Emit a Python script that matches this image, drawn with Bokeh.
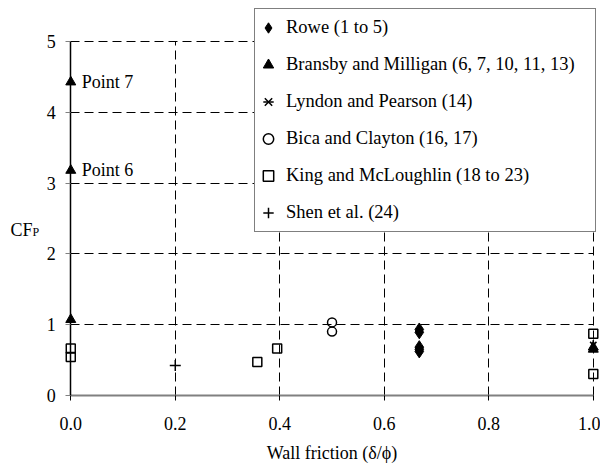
import math
from bokeh.plotting import figure
from bokeh.models import (Range1d, FixedTicker, PrintfTickFormatter, Legend,
                          LegendItem, Label)
from bokeh.core.properties import value
from bokeh.embed import file_html
from bokeh.resources import INLINE

# ---------------- data ----------------
x_ticks = [0.0, 0.2, 0.4, 0.6, 0.8, 1.0]
y_ticks = [0, 1, 2, 3, 4, 5]

rowe_x = [0.667, 0.667, 0.667, 0.667, 0.667]
rowe_y = [0.93, 0.89, 0.68, 0.65, 0.62]

bransby_x = [0.0, 0.0, 0.0, 1.0, 1.0]
bransby_y = [3.18, 4.43, 1.07, 0.68, 0.65]

lyndon_x = [1.0]
lyndon_y = [0.71]

bica_x = [0.5, 0.5]
bica_y = [1.03, 0.90]

king_x = [0.0, 0.0, 0.357, 0.395, 1.0, 1.0]
king_y = [0.66, 0.54, 0.47, 0.66, 0.87, 0.30]

shen_x = [0.2]
shen_y = [0.42]

point_text = ["Point 6", "Point 7"]
point_x = [bransby_x[0], bransby_x[1]]
point_y = [bransby_y[0], bransby_y[1]]

series_labels = ["Rowe (1 to 5)",
                 "Bransby and Milligan (6, 7, 10, 11, 13)",
                 "Lyndon and Pearson (14)",
                 "Bica and Clayton (16, 17)",
                 "King and McLoughlin (18 to 23)",
                 "Shen et al. (24)"]

FONT = "Liberation Serif"

# ---------------- figure ----------------
p = figure(width=600, height=465, output_backend="svg", toolbar_location=None,
           x_range=Range1d(-0.1345, 1.0138), y_range=Range1d(-0.994, 5.47),
           min_border_left=0, min_border_right=0, min_border_top=8,
           min_border_bottom=0)
p.outline_line_color = None
p.background_fill_color = "white"
p.border_fill_color = "white"

# x axis (drawn at y = 0)
xa = p.xaxis[0]
xa.fixed_location = 0
xa.ticker = FixedTicker(ticks=x_ticks)
xa.formatter = PrintfTickFormatter(format="%.1f")
xa.bounds = (0, 1)
xa.axis_line_color = "#808080"
xa.axis_line_width = 2
xa.major_tick_line_color = "black"
xa.major_tick_in = 0
xa.major_tick_out = 5
xa.minor_tick_line_color = None
xa.major_label_text_font = FONT
xa.major_label_text_font_size = "18px"
xa.major_label_text_color = "black"
xa.major_label_standoff = 17
xa.axis_label = "Wall friction (δ/ϕ)"
xa.axis_label_text_font = FONT
xa.axis_label_text_font_size = "18px"
xa.axis_label_text_font_style = "normal"
xa.axis_label_text_color = "black"
xa.axis_label_standoff = 9

# y axis (drawn at x = 0)
ya = p.yaxis[0]
ya.fixed_location = 0
ya.ticker = FixedTicker(ticks=y_ticks)
ya.bounds = (0, 5)
ya.axis_line_color = "black"
ya.axis_line_width = 1.5
ya.major_tick_line_color = "#808080"
ya.major_tick_in = 0
ya.major_tick_out = 5
ya.minor_tick_line_color = None
ya.major_label_text_font = FONT
ya.major_label_text_font_size = "18px"
ya.major_label_text_color = "black"
ya.major_label_standoff = 10

# grids
p.xgrid.ticker = FixedTicker(ticks=x_ticks)
p.ygrid.ticker = FixedTicker(ticks=y_ticks)
for g in (p.xgrid[0], p.ygrid[0]):
    g.grid_line_color = "black"
    g.grid_line_width = 1
    g.grid_line_dash = "9 5"
p.ygrid[0].cross_bounds = (0, 1)
p.xgrid[0].cross_bounds = (0, 5)

# ---------------- series ----------------
r_king = p.scatter(king_x, king_y, marker="square", size=9, line_color="black",
                   line_width=1.5, fill_alpha=0)
r_bica = p.scatter(bica_x, bica_y, marker="circle", size=9, line_color="black",
                   line_width=1.5, fill_alpha=0)
r_shen = p.scatter(shen_x, shen_y, marker="cross", size=11, line_color="black",
                   line_width=1.5)
r_rowe = p.scatter(rowe_x, rowe_y, marker="diamond", size=13, line_color="black",
                   fill_color="black")
r_lyn_x = p.scatter(lyndon_x, lyndon_y, marker="x", size=9, line_color="black",
                    line_width=1.5)
r_lyn_d = p.scatter(lyndon_x, lyndon_y, marker="dash", size=10, angle=math.pi / 2,
                    line_color="black", line_width=1.5)
r_bran = p.scatter(bransby_x, bransby_y, marker="triangle", size=10,
                   line_color="black", fill_color="black")

p.text(x=point_x, y=point_y, text=point_text, x_offset=11,
       text_baseline="middle", text_align="left",
       text_font=value(FONT), text_font_size="18px", text_color="black")

# y axis title CF_P
p.add_layout(Label(x=-0.1154, y=2.33, text="CF", text_font=FONT,
                   text_font_size="18px", text_baseline="alphabetic",
                   text_align="left", text_color="black"))
p.add_layout(Label(x=-0.0733, y=2.315, text="P", text_font=FONT,
                   text_font_size="12px", text_baseline="alphabetic",
                   text_align="left", text_color="black"))

# ---------------- legend ----------------
items = [LegendItem(label=series_labels[0], renderers=[r_rowe]),
         LegendItem(label=series_labels[1], renderers=[r_bran]),
         LegendItem(label=series_labels[2], renderers=[r_lyn_x, r_lyn_d]),
         LegendItem(label=series_labels[3], renderers=[r_bica]),
         LegendItem(label=series_labels[4], renderers=[r_king]),
         LegendItem(label=series_labels[5], renderers=[r_shen])]
legend = Legend(items=items, location=(254, 233),
                label_text_font=FONT, label_text_font_size="18.5px",
                label_text_color="black",
                border_line_color="black", border_line_width=1,
                background_fill_color="white", background_fill_alpha=1,
                padding=0, spacing=0, label_height=37, glyph_height=37,
                glyph_width=26, label_standoff=5, label_width=309, margin=0)
p.add_layout(legend)

open("out.html", "w").write(file_html(p, INLINE))
